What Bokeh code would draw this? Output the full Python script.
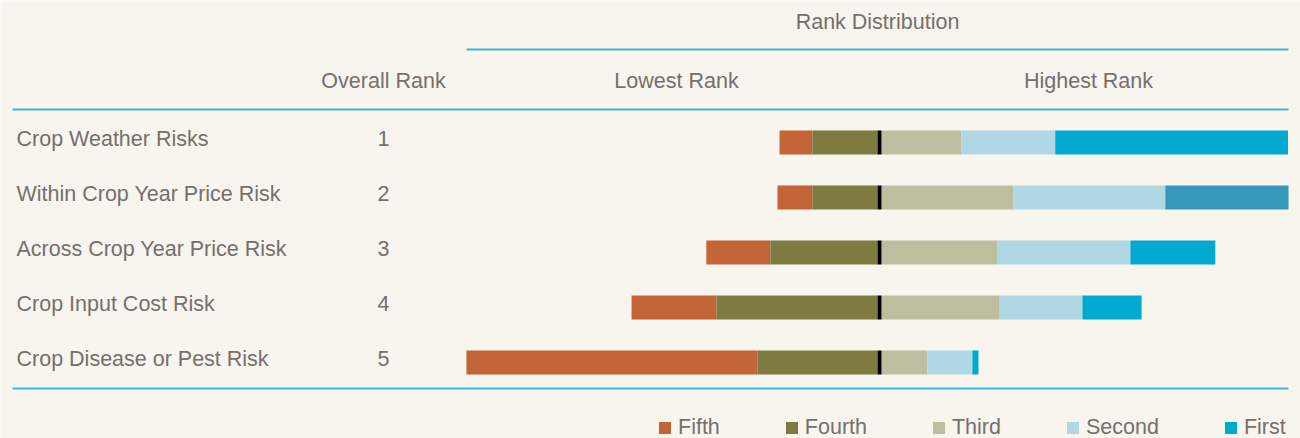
from bokeh.plotting import figure
from bokeh.models import Range1d, Legend, LegendItem, ColumnDataSource
from bokeh.embed import file_html
from bokeh.resources import INLINE
from bokeh.core.properties import value

# ---------------- data ----------------
risks = ["Crop Weather Risks", "Within Crop Year Price Risk", "Across Crop Year Price Risk",
         "Crop Input Cost Risk", "Crop Disease or Pest Risk"]
overall_rank = ["1", "2", "3", "4", "5"]
series_names = ["Fifth", "Fourth", "Third", "Second", "First"]
fifth = [6.5, 6.9, 12.7, 16.8, 57.6]
fourth = [12.9, 12.9, 21.2, 31.9, 23.8]
third = [15.8, 26.1, 23.0, 23.4, 9.1]
second = [18.6, 30.1, 26.3, 16.4, 8.9]
first = [46.1, 24.4, 16.8, 11.7, 1.2]

# ---------------- style ----------------
colors = ["#c46538", "#7d7b40", "#bfbd9f", "#b0d7e4", "#00a9cf"]
highlight_color = "#3499b8"
highlight_row = 1
BG = "#f8f4ee"
TXT = "#76706c"
RULE = "#3db5da"
FONT = value("Liberation Sans")
FS = "21.5px"

W, H = 1300, 438
PX = 5.05           # pixels per percent
CENTER = 879        # x of the zero line
def X(s):
    return (s - CENTER) / PX

ROW0, ROW_GAP, BAR_H = 142, 55, 24
LABEL_DY = -4
GAP = 2 / PX

p = figure(width=W, height=H, output_backend="svg", toolbar_location=None,
           x_range=Range1d(X(0), X(W)), y_range=Range1d(H, 0),
           min_border=0, background_fill_color=BG, border_fill_color=BG)
p.axis.visible = False
p.grid.visible = False
p.outline_line_color = None

n = len(risks)
ys = [ROW0 + i * ROW_GAP for i in range(n)]
label_ys = [y + LABEL_DY for y in ys]

# stacked segments
l_fourth_r = [-GAP] * n
l_fourth_l = [-GAP - fourth[i] for i in range(n)]
l_fifth_r = l_fourth_l
l_fifth_l = [l_fourth_l[i] - fifth[i] for i in range(n)]
r_third_l = [GAP] * n
r_third_r = [GAP + third[i] for i in range(n)]
r_second_l = r_third_r
r_second_r = [r_third_r[i] + second[i] for i in range(n)]
r_first_l = r_second_r
r_first_r = [r_second_r[i] + first[i] for i in range(n)]
first_colors = [highlight_color if i == highlight_row else colors[4] for i in range(n)]

src = ColumnDataSource(dict(y=ys,
                            a_l=l_fifth_l, a_r=l_fifth_r,
                            b_l=l_fourth_l, b_r=l_fourth_r,
                            c_l=r_third_l, c_r=r_third_r,
                            d_l=r_second_l, d_r=r_second_r,
                            e_l=r_first_l, e_r=r_first_r,
                            e_c=first_colors))

rends = []
for key, col in zip(["a", "b", "c", "d"], colors[:4]):
    rends.append(p.hbar(y="y", left=key + "_l", right=key + "_r", height=BAR_H, source=src,
                        fill_color=col, line_color=None))
rends.append(p.hbar(y="y", left="e_l", right="e_r", height=BAR_H, source=src,
                    fill_color="e_c", line_color=None))
# zero divider
p.hbar(y=ys, left=-GAP, right=GAP, height=BAR_H, fill_color="black", line_color=None)

# rules
p.segment(x0=[X(466), X(12), X(12)], x1=[X(1288)] * 3, y0=[49, 109, 388], y1=[49, 109, 388],
          line_color=RULE, line_width=2)

# headers
p.text(x=[X(877)], y=[21], text=["Rank Distribution"], text_align="center",
       text_baseline="middle", text_font=FONT, text_font_size=FS, text_color=TXT)
p.text(x=[X(383), X(676), X(1088)], y=[80, 80, 80],
       text=["Overall Rank", "Lowest Rank", "Highest Rank"], text_align="center",
       text_baseline="middle", text_font=FONT, text_font_size=FS, text_color=TXT)

# row labels
p.text(x=[X(16)] * n, y=label_ys, text=risks, text_align="left", text_baseline="middle",
       text_font=FONT, text_font_size=FS, text_color=TXT)
p.text(x=[X(383)] * n, y=label_ys, text=overall_rank, text_align="center", text_baseline="middle",
       text_font=FONT, text_font_size=FS, text_color=TXT)

legend = Legend(items=[LegendItem(label=nm, renderers=[r], index=0)
                       for nm, r in zip(series_names, rends)],
                orientation="horizontal", location=(657, -2),
                glyph_width=15, glyph_height=15, label_standoff=6, spacing=64,
                padding=0, margin=0, border_line_alpha=0, background_fill_alpha=0,
                label_text_font="Liberation Sans", label_text_font_size=FS,
                label_text_color=TXT, label_height=15)
p.add_layout(legend)

open("out.html", "w").write(file_html(p, INLINE))
